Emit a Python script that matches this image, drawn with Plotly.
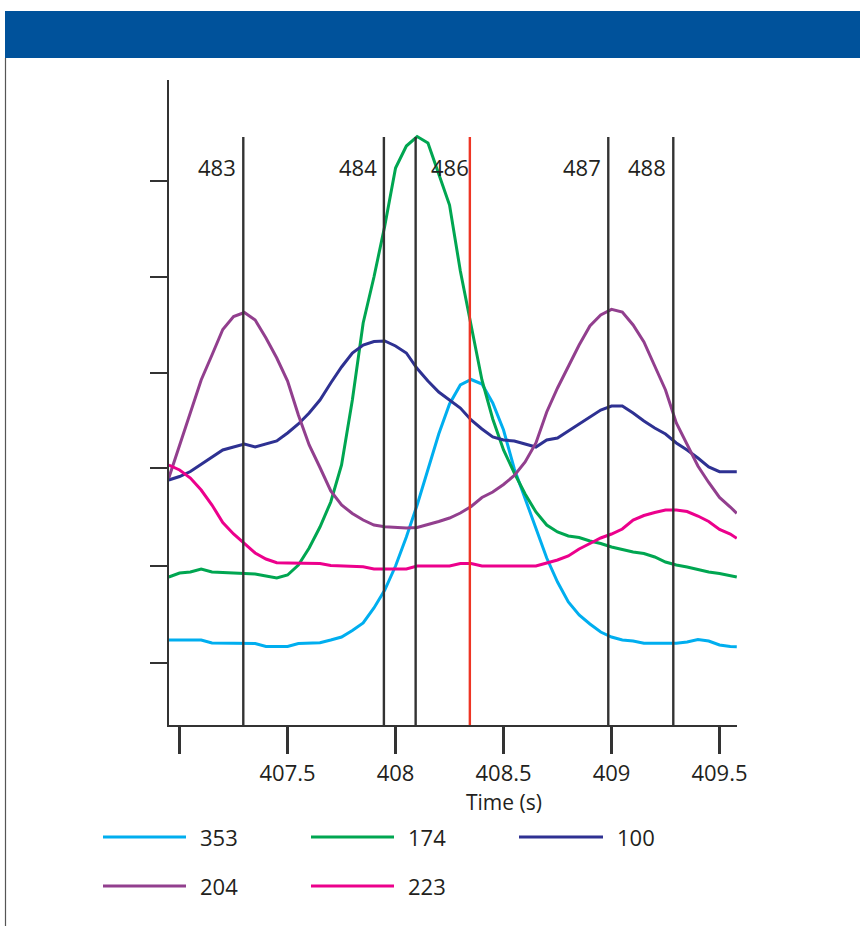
import plotly.graph_objects as go

# ---------------- data ----------------
time_s = [406.95, 407.0, 407.05, 407.1, 407.15, 407.2, 407.25, 407.3, 407.35, 407.4,
          407.45, 407.5, 407.55, 407.6, 407.65, 407.7, 407.75, 407.8, 407.85, 407.9,
          407.95, 408.0, 408.05, 408.1, 408.15, 408.2, 408.25, 408.3, 408.35, 408.4,
          408.45, 408.5, 408.55, 408.6, 408.65, 408.7, 408.75, 408.8, 408.85, 408.9,
          408.95, 409.0, 409.05, 409.1, 409.15, 409.2, 409.25, 409.3, 409.35, 409.4,
          409.45, 409.5, 409.55, 409.58]

s353 = [85, 85, 85, 85, 82, 82, 82, 82, 81.5, 78.5,
        78.3, 78.5, 81.5, 82, 82.3, 85, 88, 94.5, 102, 117,
        135, 159, 188, 220, 255, 291, 321, 340, 345.5, 341,
        322, 295, 256, 226.5, 197, 167, 143, 123, 110, 101,
        93, 88, 85, 84, 81.7, 81.7, 81.7, 81.7, 83, 85.5,
        84, 80, 78.5, 78.3]

s174 = [148, 152, 153, 156, 153, 152.5, 152, 151.5, 151, 149,
        147, 150, 160, 177, 198, 223, 260, 325, 402, 448,
        499, 557, 579, 588.5, 582, 551, 520, 454, 399, 345,
        306, 275, 252, 231, 213, 200, 193, 189, 187.5, 184,
        181.5, 178, 175.5, 173, 171.5, 168, 163, 160, 158, 155.5,
        153, 151.5, 149.5, 148]

s100 = [245, 248.5, 253.5, 260.5, 267.5, 275, 278, 281, 278, 281,
        284, 292, 301, 312, 325, 342, 358, 372, 380, 383.5,
        384, 379, 372, 356.5, 344, 333, 325, 317, 305, 296,
        288, 285, 284, 281, 278, 285, 287, 294, 301, 308,
        315, 319, 319, 312, 304, 297, 291, 282, 275, 267,
        258, 253.3, 253.3, 253.3]

s204 = [247, 279, 312, 345, 370, 395.5, 408.5, 412.5, 405, 387,
        367, 344, 310, 280, 257.5, 234, 220, 211.5, 205, 200,
        198.3, 197.6, 197, 197.5, 200.4, 203.5, 207, 212, 218.5, 227.5,
        233, 240.5, 249.5, 263, 282, 313, 337, 358.4, 380, 399,
        410, 415.7, 413, 400, 383, 359, 335, 302, 280.5, 259,
        242.5, 227.5, 218, 211.7]

s223 = [260, 255, 247, 235, 220, 202.5, 191, 181, 172, 166,
        162.3, 162, 162, 162, 161.5, 159.5, 159, 158.5, 158.3, 156,
        156, 156, 156, 159, 159, 159, 159, 161.5, 161.5, 159,
        159, 159, 159, 159, 159, 162, 165, 169, 176, 181.5,
        187, 191, 196, 205, 209.5, 212.5, 215, 215, 213.5, 209,
        203.5, 195.5, 191, 186.7]

series_names = ["353", "174", "100", "204", "223"]
series_values = [s353, s174, s100, s204, s223]
series_colors = ["#00AEEF", "#00A651", "#2E3192", "#923F8E", "#EC008C"]

marker_times = [407.295, 407.946, 408.093, 408.344, 408.985, 409.286]
marker_labels = ["483", "484", "", "486", "487", "488"]
marker_colors = ["#333333", "#333333", "#333333", "#EE3524", "#333333", "#333333"]
marker_top = 588

x_tickvals = [407, 407.5, 408, 408.5, 409, 409.5]
x_ticktext = ["", "407.5", "408", "408.5", "409", "409.5"]
y_tickvals = [62, 159, 257, 352, 448, 544]

# ---------------- layout helpers (pixel -> paper) ----------------
W, H = 860, 926
L, R, T, B = 169, 737, 80, 725
def px(x):
    return (x - L) / (R - L)
def py(y):
    return (B - y) / (B - T)

FONT = "Open Sans, sans-serif"
TXT = "#231F20"
FS = 22

fig = go.Figure()
for name, vals, col in zip(series_names, series_values, series_colors):
    fig.add_trace(go.Scatter(x=time_s, y=vals, mode="lines", name=name,
                             line=dict(color=col, width=3), showlegend=False,
                             hoverinfo="skip"))

shapes = []
annotations = []
# vertical marker lines
for t, lab, col in zip(marker_times, marker_labels, marker_colors):
    shapes.append(dict(type="line", xref="x", yref="y", x0=t, x1=t, y0=0, y1=marker_top,
                       line=dict(color=col, width=2.4), layer="above"))
    if lab:
        annotations.append(dict(x=t, y=py(167), xref="x", yref="paper", text=lab,
                                showarrow=False, xanchor="right", yanchor="middle",
                                xshift=-5 if col == "#333333" else 1,
                                font=dict(family=FONT, size=FS, color=TXT)))

# header bar and left border
shapes.append(dict(type="rect", xref="paper", yref="paper", x0=px(5), x1=px(860),
                   y0=py(58), y1=py(11), fillcolor="#00529B", line=dict(width=0), layer="below"))
shapes.append(dict(type="line", xref="paper", yref="paper", x0=px(5.5), x1=px(5.5),
                   y0=py(58), y1=py(926), line=dict(color="#555555", width=1.2)))

# x axis title
annotations.append(dict(x=408.5, y=py(802), xref="x", yref="paper", text="Time (s)",
                        showarrow=False, xanchor="center", yanchor="middle",
                        font=dict(family=FONT, size=FS - 1, color=TXT)))

# custom legend
leg_pos = [(103, 186, 837), (311, 394, 837), (519, 603, 837), (103, 186, 886), (311, 394, 886)]
for (x0, x1, yy), name, col in zip(leg_pos, series_names, series_colors):
    shapes.append(dict(type="line", xref="paper", yref="paper", x0=px(x0), x1=px(x1),
                       y0=py(yy), y1=py(yy), line=dict(color=col, width=3.2)))
    annotations.append(dict(x=px(x1 + 12), y=py(yy), xref="paper", yref="paper", text=name,
                            showarrow=False, xanchor="left", yanchor="middle",
                            font=dict(family=FONT, size=FS, color=TXT)))

fig.update_layout(
    width=W, height=H,
    margin=dict(l=L, r=W - R, t=T, b=H - B),
    paper_bgcolor="white", plot_bgcolor="white",
    shapes=shapes, annotations=annotations,
    xaxis=dict(range=[406.951, 409.581], showgrid=False, zeroline=False,
               showline=True, linecolor="#333333", linewidth=2.2,
               ticks="outside", ticklen=27, tickwidth=2.2, tickcolor="#333333",
               tickvals=x_tickvals, ticktext=x_ticktext,
               tickfont=dict(family=FONT, size=FS, color=TXT)),
    yaxis=dict(range=[0, 645], showgrid=False, zeroline=False,
               showline=True, linecolor="#333333", linewidth=2.2,
               ticks="outside", ticklen=17, tickwidth=2.2, tickcolor="#333333",
               tickvals=y_tickvals, showticklabels=False),
    showlegend=False,
)

fig.write_html("out.html", config={"displayModeBar": False, "staticPlot": True},
               post_script="document.body.style.margin='0';document.body.style.padding='0';")
